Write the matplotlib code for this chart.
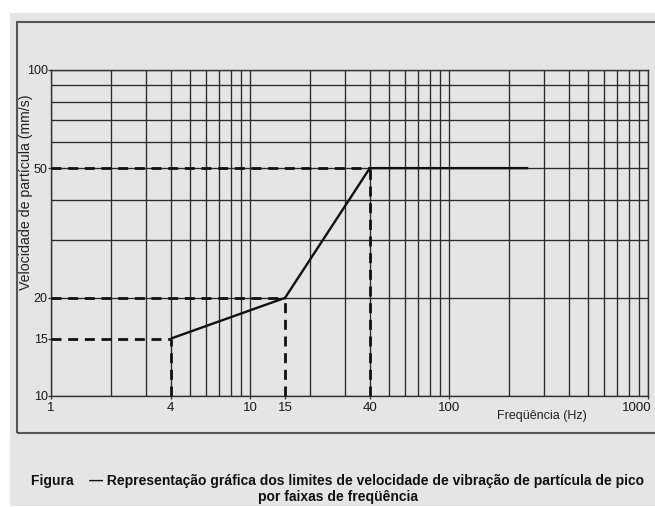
import matplotlib
matplotlib.use("Agg")
import matplotlib.pyplot as plt
import matplotlib.transforms as mtransforms
from matplotlib.patches import Rectangle
from matplotlib.ticker import LogLocator, FixedLocator, FixedFormatter, NullFormatter

# ---- data ----
freq = [4, 15, 40, 250]          # Hz
vel = [15, 20, 50, 50]           # mm/s
ref_freq = [4, 15, 40]
ref_vel = [15, 20, 50]
xtick_vals = [1, 4, 10, 15, 40, 100, 1000]
xtick_labels = ["1", "4", "10", "15", "40", "100", "1000"]
ytick_vals = [10, 15, 20, 50, 100]
ytick_labels = ["10", "15", "20", "50", "100"]
xlim = (1, 1000)
ylim = (10, 100)

plt.rcParams['font.family'] = ['Liberation Sans', 'DejaVu Sans']

W, H = 655, 507
fig = plt.figure(figsize=(W / 100, H / 100), dpi=100, facecolor="white")

def fx(px):
    return px / W

def fy(py):
    return 1 - py / H

# gray page background
fig.add_artist(Rectangle((fx(10), fy(506)), fx(655 - 10), (506 - 13) / H,
                         transform=fig.transFigure, facecolor="#e5e5e5",
                         edgecolor="none", zorder=-10))
# box frame
fig.add_artist(Rectangle((fx(17), fy(433)), fx(700 - 17), (433 - 21.5) / H,
                         transform=fig.transFigure, facecolor="none",
                         edgecolor="#555555", lw=1.5, zorder=-5))

ax = fig.add_axes([fx(51), fy(396), fx(648 - 51), (396 - 70) / H])
ax.set_facecolor("#e5e5e5")
ax.set_xscale("log")
ax.set_yscale("log")
ax.set_xlim(*xlim)
ax.set_ylim(*ylim)

ax.xaxis.set_major_locator(FixedLocator(xtick_vals))
ax.xaxis.set_major_formatter(FixedFormatter(xtick_labels))
ax.yaxis.set_major_locator(FixedLocator(ytick_vals))
ax.yaxis.set_major_formatter(FixedFormatter(ytick_labels))
for axis in (ax.xaxis, ax.yaxis):
    axis.set_minor_locator(LogLocator(base=10, subs=range(1, 10), numticks=20))
    axis.set_minor_formatter(NullFormatter())
    axis.remove_overlapping_locs = False

ax.grid(which="minor", color="#2a2a2a", lw=0.95, zorder=1)
ax.grid(which="major", visible=False)
ax.set_axisbelow(True)
ax.tick_params(which="minor", length=0)
ax.tick_params(axis="x", which="major", direction="out", length=2.5, width=0.9,
               color="#333333", labelsize=9.5, labelcolor="#1a1a1a", pad=1.5)
ax.tick_params(axis="y", which="major", direction="out", length=2.0, width=0.9,
               color="#333333", labelsize=9, labelcolor="#1a1a1a", pad=0.3)
for s in ax.spines.values():
    s.set_color("#333333")
    s.set_linewidth(1.0)

# last x tick label shifted left so it stays inside the picture
fig.canvas.draw()
last = ax.get_xticklabels()[-1]
last.set_horizontalalignment("right")
last.set_transform(last.get_transform() +
                   mtransforms.ScaledTranslation(4 / 100, 0, fig.dpi_scale_trans))

# dashed reference lines
for x, y in zip(ref_freq, ref_vel):
    ax.plot([xlim[0], x], [y, y], color="#111111", lw=2.0, dashes=(3.6, 2.4),
            dash_capstyle="butt", zorder=3, clip_on=False)
    ax.plot([x, x], [ylim[0], y], color="#111111", lw=2.0, dashes=(3.6, 2.4),
            dash_capstyle="butt", zorder=3, clip_on=False)

# limit curve
ax.plot(freq, vel, color="#111111", lw=1.7, zorder=4, solid_capstyle="butt")

# axis labels
fig.text(fx(26.5), fy(192), "Velocidade de partícula (mm/s)", rotation=90,
         ha="center", va="center", fontsize=10.2, color="#222222")
fig.text(fx(542), fy(416), "Freqüência (Hz)", ha="center", va="center",
         fontsize=9, color="#222222")

# caption
fig.text(fx(338), fy(481),
         "Figura    \u2014 Representação gráfica dos limites de velocidade de vibração de partícula de pico",
         ha="center", va="center", fontsize=10, fontweight="bold", color="#111111")
fig.text(fx(338), fy(497), "por faixas de freqüência",
         ha="center", va="center", fontsize=10, fontweight="bold", color="#111111")

fig.savefig("out.png", dpi=100, facecolor="white")
